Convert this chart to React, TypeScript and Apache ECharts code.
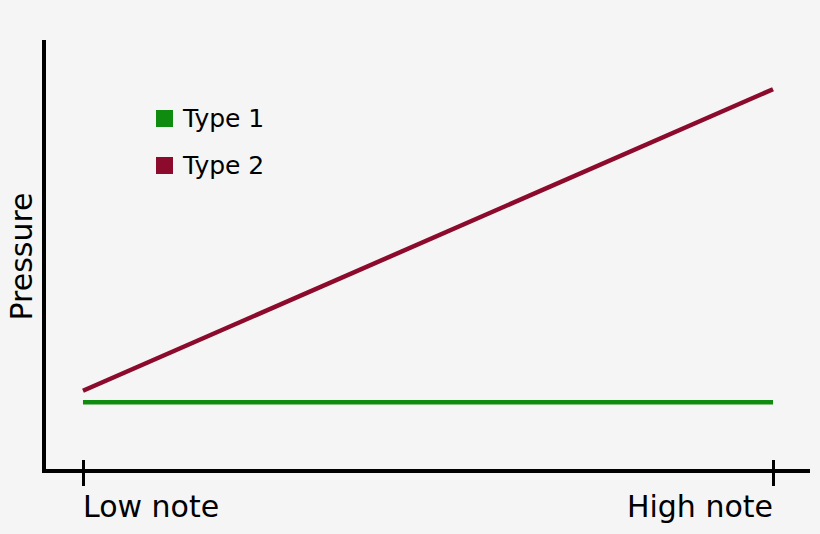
import React, { useEffect, useRef } from "react";
import * as echarts from "echarts";

const xPositions = [0, 1];
const xLabels = ["Low note", "High note"];
const seriesNames = ["Type 1", "Type 2"];
const type1Values = [1.6, 1.6];
const type2Values = [1.87, 8.9];
const seriesColors = ["#0f8c0f", "#8c0a2c"];
const yAxisName = "Pressure";

const FONT = "'DejaVu Sans', sans-serif";

export default function App() {
  const ref = useRef<HTMLDivElement>(null);
  useEffect(() => {
    if (!ref.current) return;
    const chart = echarts.init(ref.current, undefined, { renderer: "svg" });
    const toPoints = (vals: number[]) => vals.map((v, i) => [xPositions[i], v]);
    const labelFor = (v: number) => {
      const i = xPositions.findIndex((p) => Math.abs(p - v) < 1e-6);
      return i >= 0 ? xLabels[i] : "";
    };
    const xMin = -0.0565;
    const xMax = 1.0507;
    chart.setOption({
      animation: false,
      backgroundColor: "#f5f5f5",
      textStyle: { fontFamily: FONT },
      grid: { left: 44, right: 12, top: 42, bottom: 63, containLabel: false, outerBoundsMode: "none" },
      legend: {
        orient: "vertical",
        left: 156,
        top: 106,
        padding: 0,
        icon: "rect",
        itemWidth: 17,
        itemHeight: 17,
        itemGap: 22,
        data: seriesNames,
        formatter: "{gap|}{name}",
        textStyle: {
          fontSize: 25,
          color: "#000",
          fontFamily: FONT,
          rich: { gap: { width: 5 } },
        },
      },
      xAxis: [
        {
          type: "value",
          min: xMin,
          max: xMax,
          splitLine: { show: false },
          axisLine: { show: true, onZero: false, lineStyle: { color: "#000", width: 4, cap: "square" } },
          axisTick: { show: true, customValues: xPositions, length: 15, lineStyle: { color: "#000", width: 3 } },
          axisLabel: {
            show: true,
            customValues: xPositions,
            formatter: labelFor,
            fontSize: 30,
            color: "#000",
            fontFamily: FONT,
            margin: 20,
            alignMinLabel: "left",
            alignMaxLabel: "right",
          },
        },
        {
          type: "value",
          min: xMin,
          max: xMax,
          position: "bottom",
          splitLine: { show: false },
          axisLine: { show: false, onZero: false },
          axisTick: { show: true, inside: true, customValues: xPositions, length: 11, lineStyle: { color: "#000", width: 3 } },
          axisLabel: { show: false },
        },
      ],
      yAxis: {
        type: "value",
        min: 0,
        max: 10,
        name: yAxisName,
        nameLocation: "middle",
        nameRotate: 90,
        nameGap: 8,
        nameTextStyle: { fontSize: 30, color: "#000", fontFamily: FONT },
        splitLine: { show: false },
        axisLine: { show: true, onZero: false, lineStyle: { color: "#000", width: 4, cap: "square" } },
        axisTick: { show: false },
        axisLabel: { show: false },
      },
      series: [
        {
          name: seriesNames[0],
          type: "line",
          data: toPoints(type1Values),
          showSymbol: false,
          symbol: "none",
          color: seriesColors[0],
          lineStyle: { width: 4.5, color: seriesColors[0] },
        },
        {
          name: seriesNames[1],
          type: "line",
          data: toPoints(type2Values),
          showSymbol: false,
          symbol: "none",
          color: seriesColors[1],
          lineStyle: { width: 4.5, color: seriesColors[1] },
        },
      ],
    });
    return () => chart.dispose();
  }, []);
  return (
    <div
      ref={ref}
      style={{ position: "fixed", left: 0, top: 0, width: 820, height: 534 }}
    />
  );
}
